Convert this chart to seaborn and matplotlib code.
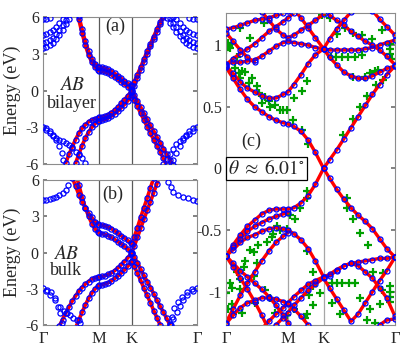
import numpy as np
import pandas as pd
import matplotlib
matplotlib.use('Agg')
import matplotlib.pyplot as plt
import seaborn as sns

nan = np.nan

# path coordinates: Gamma - M - K - Gamma
k_ticks = [0, 0.866, 1.366, 2.366]
k_names = ['Γ', 'M', 'K', 'Γ']

# ---- panels (a) and (b): shared k grid for the red bands
kab = [0.25, 0.30, 0.35, 0.40, 0.45, 0.50, 0.55, 0.60, 0.65, 0.70, 0.75, 0.80, 0.85, 0.866,
       0.90, 0.95, 1.00, 1.05, 1.10, 1.15, 1.20, 1.25, 1.30, 1.35, 1.366,
       1.40, 1.45, 1.50, 1.55, 1.60, 1.65, 1.70, 1.75, 1.80, 1.85, 1.90, 1.95, 2.00, 2.05]

# (a) AB bilayer
a_c1 = [nan, nan, nan, nan, nan, 6.9, 5.8, 4.7, 3.7, 2.9, 2.3, 1.9, 1.65, 1.6,
        1.58, 1.52, 1.42, 1.28, 1.1, 0.92, 0.72, 0.52, 0.32, 0.1, 0.0,
        0.4, 1.05, 1.7, 2.35, 3.0, 3.6, 4.2, 4.8, 5.4, 6.0, 6.6, nan, nan, nan]
a_c2 = [nan, nan, nan, nan, nan, 7.2, 6.1, 5.0, 4.0, 3.2, 2.6, 2.2, 1.95, 1.9,
        1.88, 1.82, 1.72, 1.58, 1.4, 1.2, 1.0, 0.8, 0.6, 0.42, 0.38,
        0.7, 1.3, 1.9, 2.55, 3.2, 3.8, 4.4, 5.0, 5.6, 6.2, 6.8, nan, nan, nan]
a_v1 = [nan, -6.6, -5.9, -5.2, -4.6, -4.0, -3.5, -3.1, -2.8, -2.55, -2.4, -2.3, -2.22, -2.2,
        -2.18, -2.1, -1.98, -1.8, -1.6, -1.35, -1.05, -0.75, -0.45, -0.12, 0.0,
        -0.35, -0.85, -1.35, -1.85, -2.35, -2.85, -3.3, -3.8, -4.25, -4.75, -5.2, -5.65, -6.1, -6.5]
a_v2 = [nan, nan, nan, nan, -6.6, -5.95, -5.2, -4.5, -3.9, -3.4, -3.0, -2.7, -2.5, -2.45,
        -2.42, -2.36, -2.25, -2.1, -1.9, -1.68, -1.42, -1.15, -0.85, -0.5, -0.38,
        -0.75, -1.3, -1.85, -2.4, -2.95, -3.5, -4.0, -4.5, -5.0, -5.55, -6.1, -6.6, nan, nan]

# (a) extra DFT bands near Gamma (circles only)
a_up_k = [0, 0.05, 0.1,
          0, 0.05, 0.1, 0.15, 0.2, 0.25, 0.3,
          0, 0.05, 0.1, 0.15, 0.2, 0.25, 0.3, 0.35,
          0, 0.05, 0.1, 0.15, 0.2, 0.25, 0.3, 0.35, 0.4,
          2.366, 2.3, 2.25,
          2.366, 2.3, 2.25, 2.2, 2.15, 2.1, 2.05, 2.0,
          2.366, 2.3, 2.25, 2.2, 2.15, 2.1, 2.05, 2.0, 1.95,
          2.366, 2.3, 2.25, 2.2, 2.15, 2.1, 2.05, 2.0, 1.95, 1.9]
a_up_e = [5.8, 5.85, 5.95,
          4.5, 4.6, 4.75, 4.95, 5.2, 5.5, 5.85,
          3.85, 3.95, 4.1, 4.3, 4.6, 4.95, 5.35, 5.75,
          3.45, 3.55, 3.7, 3.9, 4.2, 4.55, 4.95, 5.4, 5.85,
          5.8, 5.85, 5.95,
          4.5, 4.6, 4.75, 4.95, 5.2, 5.5, 5.8, 6.0,
          3.85, 3.95, 4.1, 4.3, 4.55, 4.85, 5.2, 5.55, 5.9,
          3.45, 3.55, 3.7, 3.9, 4.15, 4.45, 4.8, 5.15, 5.5, 5.9]
a_dn_k = [0, 0.05, 0.1, 0.15, 0.2, 0.25, 0.29, 0.31,
          0.05, 0.1, 0.15, 0.2, 0.25, 0.3, 0.35, 0.4, 0.45, 0.5, 0.55, 0.6, 0.65,
          2.366, 2.3, 2.25, 2.2, 2.15, 2.1, 2.05, 2.0,
          2.3, 2.25, 2.2, 2.15, 2.1, 2.05, 2.0, 1.95, 1.9, 1.85]
a_dn_e = [-3.0, -3.05, -3.3, -3.6, -4.0, -4.5, -5.1, -5.7,
          -3.2, -3.45, -3.7, -3.85, -4.0, -4.1, -4.25, -4.45, -4.7, -5.0, -5.25, -5.5, -5.95,
          -3.0, -3.1, -3.3, -3.6, -4.0, -4.5, -5.1, -5.7,
          -3.3, -3.55, -3.75, -3.9, -4.1, -4.4, -4.8, -5.2, -5.6, -6.0]

# (b) AB bulk
b_c1 = [nan, nan, nan, nan, nan, 6.6, 5.6, 4.6, 3.7, 3.0, 2.4, 1.95, 1.68, 1.6,
        1.57, 1.5, 1.4, 1.25, 1.08, 0.9, 0.7, 0.5, 0.3, 0.08, 0.0,
        0.5, 1.25, 2.0, 2.75, 3.5, 4.2, 4.95, 5.7, 6.45, nan, nan, nan, nan, nan]
b_c2 = [nan, nan, nan, 7.0, 6.2, 5.5, 4.8, 4.2, 3.7, 3.25, 2.9, 2.55, 2.35, 2.3,
        2.28, 2.22, 2.12, 1.98, 1.8, 1.6, 1.4, 1.2, 1.0, 0.78, 0.7,
        1.25, 2.05, 2.9, 3.7, 4.5, 5.35, 6.15, 7.0, nan, nan, nan, nan, nan, nan]
b_v1 = [-6.1, -5.55, -5.0, -4.5, -4.0, -3.6, -3.2, -2.9, -2.6, -2.4, -2.2, -2.1, -2.02, -2.0,
        -1.98, -1.92, -1.82, -1.68, -1.5, -1.28, -1.02, -0.75, -0.45, -0.12, 0.0,
        -0.35, -0.85, -1.37, -1.9, -2.4, -2.9, -3.4, -3.95, -4.45, -4.95, -5.45, -6.0, -6.5, nan]
b_v2 = [nan, nan, nan, nan, -6.9, -6.25, -5.6, -4.95, -4.35, -3.8, -3.35, -3.0, -2.75, -2.7,
        -2.68, -2.6, -2.5, -2.35, -2.15, -1.95, -1.7, -1.45, -1.15, -0.82, -0.7,
        -1.1, -1.7, -2.3, -2.95, -3.55, -4.15, -4.8, -5.4, -6.0, -6.6, nan, nan, nan, nan]

b_up_k = [0, 0.05, 0.1, 0.15, 0.2, 0.25, 0.3, 0.35, 0.38,
          2.366, 2.3, 2.23, 2.15, 2.07, 2.0, 1.96, 1.92]
b_up_e = [4.35, 4.37, 4.42, 4.5, 4.6, 4.72, 4.9, 5.2, 5.6,
          4.3, 4.35, 4.48, 4.6, 4.75, 5.0, 5.4, 5.8]
b_dn_k = [0, 0.06, 0.12, 0.18, 0.23, 0.26, 0.29,
          0.05, 0.11, 0.18, 0.26, 0.32, 0.37, 0.42, 0.46, 0.52, 0.57,
          2.366, 2.29, 2.21, 2.13, 2.07, 2.02, 1.98, 1.95,
          2.3, 2.22, 2.15, 2.1, 2.06, 2.0, 1.96]
b_dn_e = [-2.95, -3.1, -3.3, -3.75, -4.5, -5.0, -5.8,
          -3.2, -3.5, -3.9, -4.5, -4.8, -5.0, -5.2, -5.4, -5.6, -5.8,
          -2.95, -3.0, -3.3, -3.7, -4.1, -4.6, -5.3, -5.9,
          -3.15, -3.5, -3.95, -4.4, -4.9, -5.5, -6.0]

# ---- panel (c): twisted bilayer, theta = 6.01 deg
kc = [0, 0.1, 0.2, 0.3, 0.4, 0.5, 0.6, 0.7, 0.8, 0.866, 0.95, 1.05, 1.15, 1.25, 1.366,
      1.45, 1.55, 1.65, 1.75, 1.85, 1.95, 2.05, 2.15, 2.25, 2.366]

c_b1 = [0.82, 0.73, 0.64, 0.56, 0.50, 0.46, 0.42, 0.39, 0.37, 0.36, 0.34, 0.30, 0.23, 0.13, 0.0,
        0.07, 0.15, 0.24, 0.33, 0.42, 0.51, 0.60, 0.68, 0.76, 0.83]
c_b2 = [0.83, 0.77, 0.70, 0.65, 0.62, 0.59, 0.57, 0.57, 0.60, 0.62, 0.68, 0.76, 0.85, 0.92, 0.97,
        0.90, 0.84, 0.78, 0.75, 0.73, 0.73, 0.75, 0.78, 0.81, 0.83]
c_b3 = [0.85, 0.86, 0.86, 0.87, 0.88, 0.91, 0.95, 0.99, 1.02, 1.03, 1.02, 1.01, 1.0, 0.98, 0.97,
        0.96, 0.96, 0.96, 0.96, 0.96, 0.97, 0.98, 1.0, 1.02, 1.04]
c_b4 = [0.84, 0.89, 0.93, 0.97, 1.01, 1.06, 1.11, 1.15, 1.19, 1.22, 1.26, 1.3] + [nan] * 13
c_b5 = [1.13, 1.14, 1.16, 1.18, 1.2, 1.21, 1.22, 1.24, 1.26, 1.28] + [nan] * 15
c_b6 = [1.1, 1.03, 0.96, 0.9, 0.86] + [nan] * 20
c_b7 = [nan] * 4 + [1.32, 1.27, 1.2, 1.13, 1.08, 1.06, 1.08, 1.12, 1.16, 1.2, 1.25, 1.3] + [nan] * 9
c_b8 = [nan] * 10 + [1.29, 1.22, 1.14, 1.06, 0.97, 1.05, 1.13, 1.2, 1.27, 1.34] + [nan] * 5
c_b10 = [nan] * 14 + [1.3, 1.24, 1.2, 1.16, 1.11, 1.07, 1.03, 1.0, 0.96, 0.91, 0.84]
c_b11 = [nan] * 21 + [1.28, 1.21, 1.15, 1.08]

c_v1 = [-0.71, -0.62, -0.54, -0.47, -0.42, -0.37, -0.34, -0.33, -0.33, -0.33, -0.32, -0.28, -0.22, -0.13, 0.0,
        -0.08, -0.17, -0.25, -0.32, -0.38, -0.43, -0.49, -0.57, -0.65, -0.72]
c_v2 = [-0.71, -0.66, -0.60, -0.56, -0.54, -0.51, -0.49, -0.48, -0.49, -0.50, -0.53, -0.58, -0.65, -0.75, -0.88,
        -0.87, -0.83, -0.79, -0.77, -0.76, -0.75, -0.74, -0.73, -0.73, -0.72]
c_v3 = [nan] * 5 + [-1.3, -1.24, -1.18, -1.13, -1.09, -1.04, -0.99, -0.94, -0.91, -0.88,
                    -0.86, -0.82, -0.79, -0.77, -0.79, -0.84, -0.89, -0.97, -1.05, -1.2]
c_v4 = [nan] * 6 + [-1.32, -1.27, -1.21, -1.17, -1.11, -1.05, -0.99, -0.94, -0.89,
                    -0.97, -1.06, -1.15, -1.24, -1.18, -1.09, -1.0, -0.91, -0.83, -0.72]
c_v5 = [-0.71, -0.64, -0.57, -0.51, -0.47, -0.44, -0.41, -0.39, -0.37, -0.36] + [nan] * 15
c_v6 = [nan] * 22 + [-1.27, -1.23, -1.22]
c_v7 = [-0.71, -0.80, -0.89, -0.98, -1.08, -1.19, -1.31] + [nan] * 18
c_v8 = [-1.25, -1.14, -1.03, -0.93, -0.84, -0.75, -0.67, -0.60, -0.55, -0.52] + [nan] * 15
c_v9 = [-0.71, -0.77, -0.83, -0.88, -0.93, -0.98, -1.04, -1.11, -1.19, -1.25, -1.32] + [nan] * 14
c_v10 = [-1.26, -1.19, -1.13, -1.09, -1.07, -1.05, -1.05, -1.06, -1.08, -1.10, -1.14, -1.20, -1.27] + [nan] * 12

# continuum-model points (green crosses)
g_k = [0.0, 0.03, 0.08, 0.06, 0.13, 0.18, 0.2, 0.22, 0.27, 0.32, 0.36, 0.43, 0.46, 0.5, 0.55,
       0.6, 0.62, 0.69, 0.75, 0.8, 0.85, 0.94, 0.95, 0.2, 0.34, 0.53, 0.15,
       1.13, 1.06, 1.06, 1.15, 1.34, 1.46, 1.55, 1.67, 1.78, 1.9, 2.04, 2.18, 2.3, 2.3, 2.3, 2.32,
       1.47, 1.54, 1.62, 1.71, 1.8, 1.9,
       1.78, 1.95, 2.02, 2.08, 2.13, 1.64, 1.78, 1.88, 1.97, 2.1, 2.2,
       1.04, 0.97, 0.9, 0.85, 0.76, 0.71, 0.66, 0.64, 0.57, 0.45, 0.39, 0.33, 0.27, 0.25, 0.15,
       0.2, 0.06, 0.08, 0.0, 0.08, 0.1, 0.03, 0.2, 0.39, 0.43, 0.55, 0.62, 0.41, 0.22, 0.69,
       0.85, 0.95, 1.11, 1.16, 1.13,
       1.13, 1.13, 1.69, 1.69, 1.78, 1.88, 1.99, 2.06, 2.2, 2.3, 2.3, 2.3, 2.3, 2.18, 2.16,
       1.13, 1.22, 1.22, 1.48, 1.55, 1.63, 1.72, 1.8, 1.32, 1.48, 1.22, 1.6, 2.02, 2.09, 1.88, 1.97]
g_e = [0.96, 1.02, 1.01, 0.98, 0.81, 0.77, 0.73, 0.79, 0.78, 0.69, 0.73, 0.67, 0.61, 0.53, 0.58,
       0.55, 0.5, 0.51, 0.47, 0.47, 0.47, 0.39, 0.57, 1.14, 1.06, 1.18, 0.9,
       0.71, 0.63, 0.31, 0.2, 1.24, 1.22, 1.09, 1.14, 1.1, 1.08, 1.05, 1.12, 1.01, 0.97, 0.93, 0.89,
       0.9, 0.9, 0.9, 0.9, 0.9, 0.92,
       0.74, 0.74, 0.77, 0.79, 0.8, 0.27, 0.4, 0.5, 0.59, 0.68, 0.72,
       -0.32, -0.41, -0.38, -0.49, -0.5, -0.47, -0.53, -0.56, -0.6, -0.62, -0.68, -0.66, -0.75, -0.8, -0.84,
       -0.9, -0.93, -0.97, -1.01, -1.1, -1.18, -1.14, -0.98, -0.87, -0.77, -0.99, -1.05, -1.09, -1.17, -1.17,
       -1.19, -1.14, -1.21, -1.03, -1.18,
       -0.18, -0.24, -0.24, -0.32, -0.41, -0.52, -0.62, -0.84, -0.85, -0.95, -1.0, -1.04, -1.08, -0.99, -1.1,
       -0.67, -0.84, -0.95, -0.93, -0.93, -0.93, -0.93, -0.93, -1.01, -1.09, -1.11, -1.18, -1.14, -1.25, -1.05, -1.23]

# ---- style
sns.set_theme(style='white')
plt.rcParams['font.family'] = ['Liberation Serif', 'DejaVu Serif']
plt.rcParams['mathtext.fontset'] = 'stix'
plt.rcParams['axes.unicode_minus'] = False

fig = plt.figure(figsize=(4.15, 3.54), dpi=100)
ax_a = fig.add_axes([0.1036, 0.5367, 0.3711, 0.4153])
ax_b = fig.add_axes([0.1036, 0.0819, 0.3711, 0.4096])
ax_c = fig.add_axes([0.5446, 0.0819, 0.4072, 0.8814])


def draw_band(ax, k, e, lw=2.6, ms=3.7):
    df = pd.DataFrame({'k': k, 'E': e}).dropna()
    sns.lineplot(data=df, x='k', y='E', ax=ax, color='red', linewidth=lw,
                 sort=False, estimator=None, zorder=2)
    ax.plot(df.k, df.E, 'o', mfc='none', mec='blue', ms=ms, mew=0.9, zorder=3)


def dots(ax, k, e, ms=3.7):
    ax.plot(k, e, 'o', mfc='none', mec='blue', ms=ms, mew=0.9, zorder=3)


def style(ax, ylim, yticks, ylabels, vcol, xlabels=True):
    ax.set_xlim(0, 2.366)
    ax.set_ylim(*ylim)
    ax.set_yticks(yticks)
    ax.set_yticklabels(ylabels)
    ax.set_xticks(k_ticks)
    ax.set_xticklabels(k_names if xlabels else [])
    for x in (0.866, 1.366):
        ax.axvline(x, color=vcol, lw=0.9, zorder=1)
    ax.tick_params(axis='y', direction='in', length=3, left=True, right=True,
                   labelsize=11.5, color='0.45', pad=3)
    ax.tick_params(axis='x', length=0, labelsize=12, pad=4)
    for s in ax.spines.values():
        s.set_color('0.55')
        s.set_linewidth(0.8)
    ax.set_xlabel('')
    ax.set_ylabel('')


# (a)
for band in (a_c1, a_c2, a_v1, a_v2):
    draw_band(ax_a, kab, band)
dots(ax_a, a_up_k, a_up_e)
dots(ax_a, a_dn_k, a_dn_e)
style(ax_a, (-6, 6), [-6, -3, 0, 3, 6], ['-6', '-3', '0', '3', '6'], '0.35', xlabels=False)
ax_a.set_ylabel('Energy (eV)', fontsize=13, labelpad=3)
ax_a.text(1.106, 5.2, '(a)', fontsize=13, ha='center', va='center')
ax_a.text(0.45, 0.45, '$AB$', fontsize=14, ha='center', va='center')
ax_a.text(0.44, -1.1, 'bilayer', fontsize=13, ha='center', va='center')

# (b)
for band in (b_c1, b_c2, b_v1, b_v2):
    draw_band(ax_b, kab, band)
dots(ax_b, b_up_k, b_up_e)
dots(ax_b, b_dn_k, b_dn_e)
style(ax_b, (-6, 6), [-6, -3, 0, 3, 6], ['-6', '-3', '0', '3', '6'], '0.35')
ax_b.set_ylabel('Energy (eV)', fontsize=13, labelpad=3)
ax_b.text(1.075, 4.85, '(b)', fontsize=13, ha='center', va='center')
ax_b.text(0.35, -0.15, '$AB$', fontsize=14, ha='center', va='center')
ax_b.text(0.35, -1.45, 'bulk', fontsize=13, ha='center', va='center')

# (c)
ax_c.plot(g_k, g_e, '+', color='#00a000', ms=5.5, mew=1.6, zorder=1.5)
for band in (c_b1, c_b2, c_b3, c_b4, c_b5, c_b6, c_b7, c_b8, c_b10, c_b11,
             c_v1, c_v2, c_v3, c_v4, c_v5, c_v6, c_v7, c_v8, c_v9, c_v10):
    draw_band(ax_c, kc, band, lw=2.4, ms=3.6)
style(ax_c, (-1.27, 1.26), [-1, -0.5, 0, 0.5, 1], ['-1', '-0.5', '0', '0.5', '1'], '0.65')
ax_c.text(0.36, 0.22, '(c)', fontsize=13, ha='center', va='center')
ax_c.text(0.03, 0.0, r'$\theta\;\approx\;6.01^{\circ}$', fontsize=14, ha='left', va='center',
          zorder=5, bbox=dict(boxstyle='square,pad=0.12', fc='white', ec='black', lw=0.9))

fig.savefig('out.png', dpi=100)
